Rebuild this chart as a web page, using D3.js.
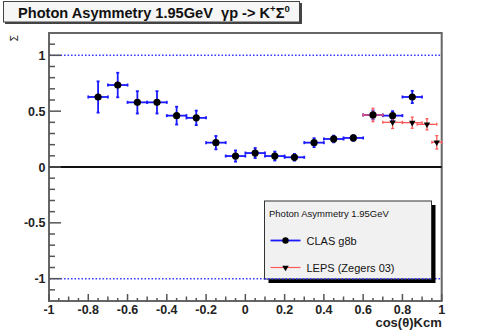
<!DOCTYPE html>
<html>
<head>
<meta charset="utf-8">
<script src="https://cdn.jsdelivr.net/npm/d3@7"></script>
<style>
  body { margin: 0; background: #fff; }
  text { font-family: "Liberation Sans", Arial, sans-serif; }
</style>
</head>
<body>
<script>
// CLAS g8b points (bin centre, asymmetry, errors)
var clasX = [-0.75, -0.65, -0.55, -0.45, -0.35, -0.25, -0.15, -0.05, 0.05, 0.15, 0.25, 0.35, 0.45, 0.55, 0.65, 0.75, 0.85];
var clasY = [0.627, 0.734, 0.579, 0.579, 0.46, 0.44, 0.218, 0.098, 0.125, 0.098, 0.087, 0.218, 0.251, 0.26, 0.466, 0.46, 0.627];
var clasYErr = [0.14, 0.11, 0.10, 0.10, 0.08, 0.065, 0.06, 0.05, 0.045, 0.04, 0.03, 0.04, 0.03, 0.025, 0.04, 0.04, 0.055];
var clasXErr = [0.05, 0.05, 0.05, 0.05, 0.05, 0.05, 0.05, 0.05, 0.05, 0.05, 0.05, 0.05, 0.05, 0.05, 0.05, 0.05, 0.05];

// LEPS (Zegers 03) points
var lepsX = [0.65, 0.75, 0.85, 0.925, 0.975];
var lepsY = [0.466, 0.40, 0.397, 0.382, 0.221];
var lepsYErr = [0.06, 0.055, 0.05, 0.05, 0.06];
var lepsXErr = [0.05, 0.05, 0.05, 0.05, 0.025];

// tick labels
var xTicks = [-1, -0.8, -0.6, -0.4, -0.2, 0, 0.2, 0.4, 0.6, 0.8, 1];
var yTicks = [-1, -0.5, 0, 0.5, 1];

var W = 491, H = 335;
var svg = d3.select('body').append('svg')
    .attr('width', W)
    .attr('height', H);

// frame edges in pixels
var fLeft = 49, fRight = 441.7, fTop = 33, fBottom = 301;

var x = d3.scaleLinear().domain([-1, 1]).range([fLeft, fRight]);
var y = d3.scaleLinear().domain([-1.2, 1.2]).range([fBottom, fTop]);

var clas = clasX.map(function(d, i) {
    return {x: d, y: clasY[i], ex: clasXErr[i], ey: clasYErr[i]};
});
var leps = lepsX.map(function(d, i) {
    return {x: d, y: lepsY[i], ex: lepsXErr[i], ey: lepsYErr[i]};
});

// ROOT style labels use a plain hyphen
function fmt(d) { return String(d); }

// frame
svg.append('rect')
    .attr('x', fLeft).attr('y', fTop)
    .attr('width', fRight - fLeft).attr('height', fBottom - fTop)
    .attr('fill', '#fff')
    .attr('stroke', '#666')
    .attr('stroke-width', 2);

// dotted lines at +1 / -1
svg.selectAll('.limit')
    .data([1, -1])
    .enter().append('line')
    .attr('class', 'limit')
    .attr('x1', fLeft + 1).attr('x2', fRight - 1)
    .attr('y1', function(d) { return y(d); })
    .attr('y2', function(d) { return y(d); })
    .attr('stroke', '#3c3cff')
    .attr('stroke-width', 1.5)
    .attr('stroke-dasharray', '1.6,1.9');

// zero line
svg.append('line')
    .attr('x1', fLeft).attr('x2', fRight)
    .attr('y1', y(0)).attr('y2', y(0))
    .attr('stroke', '#111')
    .attr('stroke-width', 2);

// x axis ticks (inward), major every 0.2, medium 0.1, minor 0.05
var xTickVals = d3.range(0, 41).map(function(i) { return -1 + i * 0.05; });
svg.selectAll('.xtick')
    .data(xTickVals)
    .enter().append('line')
    .attr('class', 'xtick')
    .attr('x1', function(d) { return x(d); })
    .attr('x2', function(d) { return x(d); })
    .attr('y1', fBottom)
    .attr('y2', function(d, i) {
        if (i % 4 === 0) return fBottom - 7;
        if (i % 2 === 0) return fBottom - 4.5;
        return fBottom - 3;
    })
    .attr('stroke', '#555')
    .attr('stroke-width', 1.5);

svg.selectAll('.xlab')
    .data(xTicks)
    .enter().append('text')
    .attr('class', 'xlab')
    .attr('x', function(d) { return x(d); })
    .attr('y', 313.5)
    .attr('text-anchor', 'middle')
    .attr('font-size', 12.5)
    .attr('font-weight', 'bold')
    .attr('fill', '#222')
    .text(fmt);

// y axis ticks (inward), major every 0.5, minor 0.1
var yTickVals = d3.range(1, 24).map(function(i) { return -1.2 + i * 0.1; });
svg.selectAll('.ytick')
    .data(yTickVals)
    .enter().append('line')
    .attr('class', 'ytick')
    .attr('x1', fLeft)
    .attr('x2', function(d) {
        var r = Math.round(d * 10);
        return r % 5 === 0 ? fLeft + 12 : fLeft + 6;
    })
    .attr('y1', function(d) { return y(d); })
    .attr('y2', function(d) { return y(d); })
    .attr('stroke', '#555')
    .attr('stroke-width', 1.5);

svg.selectAll('.ylab')
    .data(yTicks)
    .enter().append('text')
    .attr('class', 'ylab')
    .attr('x', 45.5)
    .attr('y', function(d) { return y(d) + 4.5; })
    .attr('text-anchor', 'end')
    .attr('font-size', 12.5)
    .attr('font-weight', 'bold')
    .attr('fill', '#222')
    .text(fmt);

// axis titles
svg.append('text')
    .attr('transform', 'translate(18,35) rotate(-90)')
    .attr('text-anchor', 'end')
    .attr('font-size', 10)
    .attr('fill', '#222')
    .text('Σ');

svg.append('text')
    .attr('x', fRight)
    .attr('y', 327)
    .attr('text-anchor', 'end')
    .attr('font-size', 13)
    .attr('font-weight', 'bold')
    .attr('fill', '#222')
    .text('cos(θ)Kcm');

// draws error bars with tiny end caps
function errorBars(data, colour, width) {
    var g = svg.append('g')
        .attr('stroke', colour)
        .attr('stroke-width', width);
    data.forEach(function(d) {
        var cx = x(d.x), cy = y(d.y);
        var x0 = Math.max(x(d.x - d.ex), fLeft), x1 = Math.min(x(d.x + d.ex), fRight);
        var y0 = y(d.y - d.ey), y1 = y(d.y + d.ey);
        g.append('line').attr('x1', x0).attr('x2', x1).attr('y1', cy).attr('y2', cy);
        g.append('line').attr('x1', cx).attr('x2', cx).attr('y1', y0).attr('y2', y1);
        g.append('line').attr('x1', cx - 1.5).attr('x2', cx + 1.5).attr('y1', y0).attr('y2', y0);
        g.append('line').attr('x1', cx - 1.5).attr('x2', cx + 1.5).attr('y1', y1).attr('y2', y1);
        g.append('line').attr('x1', x0).attr('x2', x0).attr('y1', cy - 1.5).attr('y2', cy + 1.5);
        g.append('line').attr('x1', x1).attr('x2', x1).attr('y1', cy - 1.5).attr('y2', cy + 1.5);
    });
}

errorBars(clas, '#1a1aff', 1.8);
errorBars(leps, '#ff5a5a', 1.3);

// CLAS markers
svg.selectAll('.clas')
    .data(clas)
    .enter().append('circle')
    .attr('class', 'clas')
    .attr('cx', function(d) { return x(d.x); })
    .attr('cy', function(d) { return y(d.y); })
    .attr('r', 3.6)
    .attr('fill', '#000');

// LEPS markers (down triangles)
var tri = d3.symbol().type(d3.symbolTriangle).size(18);
svg.selectAll('.leps')
    .data(leps)
    .enter().append('path')
    .attr('class', 'leps')
    .attr('d', tri)
    .attr('transform', function(d) {
        return 'translate(' + x(d.x) + ',' + y(d.y) + ') rotate(180)';
    })
    .attr('fill', '#000');

// title box with shadow
svg.append('rect')
    .attr('x', 5).attr('y', 3).attr('width', 297).attr('height', 21)
    .attr('fill', '#444');
svg.append('rect')
    .attr('x', 3.5).attr('y', 1.5).attr('width', 296).attr('height', 20.5)
    .attr('fill', '#f6f6f6')
    .attr('stroke', '#444')
    .attr('stroke-width', 1);
var title = svg.append('text')
    .attr('x', 18)
    .attr('y', 17.5)
    .attr('font-size', 14.6)
    .attr('font-weight', 'bold')
    .attr('fill', '#111');
title.append('tspan').text('Photon Asymmetry 1.95GeV\u00a0 γp -> K');
title.append('tspan').attr('font-size', 9.5).attr('dy', -6).text('+');
title.append('tspan').attr('dy', 6).text('Σ');
title.append('tspan').attr('font-size', 9.5).attr('dy', -6).text('0');

// legend with shadow
var lg = {x: 264.5, y: 201, w: 167, h: 78};
svg.append('rect')
    .attr('x', lg.x + 4).attr('y', lg.y + 4).attr('width', lg.w).attr('height', lg.h)
    .attr('fill', '#000');
svg.append('rect')
    .attr('x', lg.x).attr('y', lg.y).attr('width', lg.w).attr('height', lg.h)
    .attr('fill', '#f1f1f1')
    .attr('stroke', '#333')
    .attr('stroke-width', 1);

svg.append('text')
    .attr('x', 269).attr('y', 217)
    .attr('font-size', 9.5)
    .attr('fill', '#111')
    .text('Photon Asymmetry 1.95GeV');

var legendItems = [
    {label: 'CLAS g8b', colour: '#1a1aff', y: 240.5, marker: 'circle'},
    {label: 'LEPS (Zegers 03)', colour: '#ff5a5a', y: 267.5, marker: 'tri'}
];
legendItems.forEach(function(d) {
    svg.append('line')
        .attr('x1', 270.5).attr('x2', 300.5)
        .attr('y1', d.y).attr('y2', d.y)
        .attr('stroke', d.colour)
        .attr('stroke-width', d.marker === 'circle' ? 1.8 : 1.2);
    if (d.marker === 'circle') {
        svg.append('circle').attr('cx', 285.5).attr('cy', d.y).attr('r', 3.2).attr('fill', '#000');
    } else {
        svg.append('path').attr('d', tri)
            .attr('transform', 'translate(285.5,' + d.y + ') rotate(180)')
            .attr('fill', '#000');
    }
    svg.append('text')
        .attr('x', 306.5).attr('y', d.y + 4)
        .attr('font-size', 11)
        .attr('fill', '#111')
        .text(d.label);
});

// the -1 dotted line shows through the legend bottom
svg.append('line')
    .attr('x1', lg.x).attr('x2', lg.x + lg.w)
    .attr('y1', y(-1)).attr('y2', y(-1))
    .attr('stroke', '#3c3cff')
    .attr('stroke-width', 1.5)
    .attr('stroke-dasharray', '1.6,1.9');
</script>
</body>
</html>
